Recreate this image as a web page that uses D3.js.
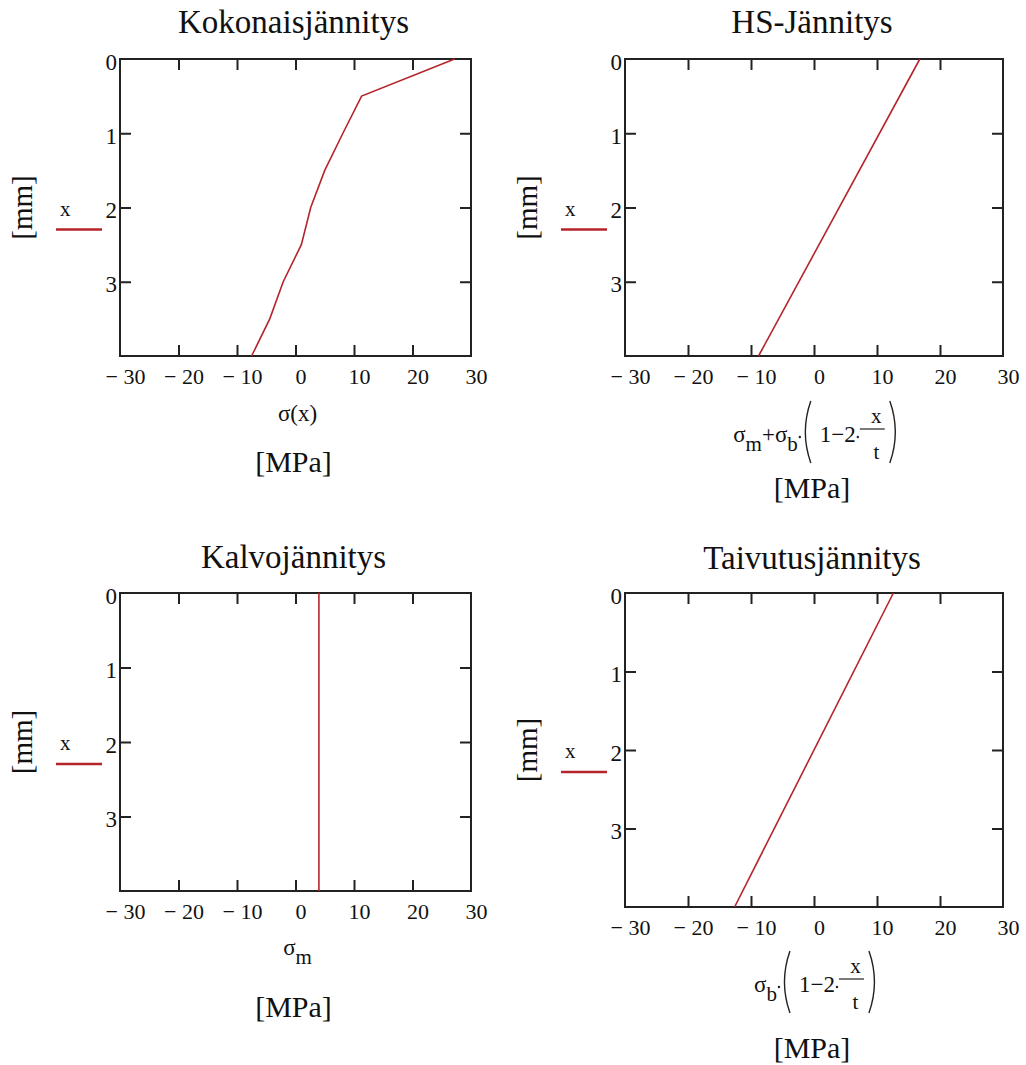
<!DOCTYPE html>
<meta charset="utf-8">
<script src="https://d3js.org/d3.v7.min.js"></script>
<style>
  body { margin: 0; background: #fff; }
  text { font-family: "Liberation Serif", "Times New Roman", serif; fill: #111; }
</style>
<div id="chart"></div>
<script>
// data (stress in MPa, depth x in mm)
const xTicks = [-30, -20, -10, 0, 10, 20, 30];
const xTickLabels = ["\u2212 30", "\u2212 20", "\u2212 10", "0", "10", "20", "30"];
const yTicks = [0, 1, 2, 3];
const yTickLabels = ["0", "1", "2", "3"];

const totalDepth = [0, 0.5, 1, 1.5, 2, 2.5, 3, 3.5, 4];
const totalStress = [27.2, 11.3, 8.1, 5.0, 2.6, 1.0, -2.1, -4.4, -7.5];

const hsDepth = [0, 4];
const hsStress = [16.8, -8.8];

const membraneDepth = [0, 4];
const membraneStress = [4.0, 4.0];

const bendingDepth = [0, 4];
const bendingStress = [12.6, -12.6];

const titles = ["Kokonaisjännitys", "HS-Jännitys", "Kalvojännitys", "Taivutusjännitys"];

const red = "#b5242b";
const serif = "'Liberation Serif', 'Times New Roman', serif";

const svg = d3.select("#chart").append("svg")
    .attr("width", 1026)
    .attr("height", 1065);

// panel frames and label baselines
const panels = [
  {left: 120, top: 59, w: 351, h: 297, title: titles[0], titleY: 33,
   depth: totalDepth, stress: totalStress, label: "sigx", labelY: 421, unitY: 472},
  {left: 625, top: 59, w: 378, h: 297, title: titles[1], titleY: 33,
   depth: hsDepth, stress: hsStress, label: "hs", labelY: 442, unitY: 498},
  {left: 120, top: 593, w: 351, h: 298, title: titles[2], titleY: 568,
   depth: membraneDepth, stress: membraneStress, label: "sigm", labelY: 955, unitY: 1017},
  {left: 625, top: 593, w: 378, h: 314, title: titles[3], titleY: 569,
   depth: bendingDepth, stress: bendingStress, label: "bend", labelY: 992, unitY: 1058}
];

// small formula typesetter: lays tokens left to right, then centres them
function formula(parent, cx, B, tokens) {
  const g = parent.append("g");
  let cur = 0;
  tokens.forEach(tk => {
    if (tk.t !== undefined) {
      const t = g.append("text").attr("x", cur).attr("y", B)
          .style("font-family", serif).style("font-size", "23px").text(tk.t);
      cur += t.node().getComputedTextLength() + (tk.gap || 0);
    } else if (tk.sub !== undefined) {
      const t = g.append("text").attr("x", cur).attr("y", B + 9)
          .style("font-family", serif).style("font-size", "21px").text(tk.sub);
      cur += t.node().getComputedTextLength() + (tk.gap || 0);
    } else if (tk.dot) {
      g.append("circle").attr("cx", cur + 2).attr("cy", B - 5).attr("r", 1.2).attr("fill", "#222");
      cur += 4;
    } else if (tk.paren) {
      const w = 10;
      const x0 = tk.paren === "(" ? cur + w - 1 : cur + 1;
      const xc = tk.paren === "(" ? cur - 2 : cur + w + 2;
      g.append("path")
          .attr("d", `M${x0},${B - 41} Q${xc},${B - 10} ${x0},${B + 21}`)
          .attr("fill", "none").attr("stroke", "#222").attr("stroke-width", 1.4);
      cur += w + (tk.gap || 0);
    } else if (tk.frac) {
      const fw = 25;
      g.append("line").attr("x1", cur).attr("x2", cur + fw)
          .attr("y1", B - 13).attr("y2", B - 13)
          .attr("stroke", "#222").attr("stroke-width", 1.2);
      g.append("text").attr("x", cur + fw / 2 + 4).attr("y", B - 19)
          .attr("text-anchor", "middle")
          .style("font-family", serif).style("font-size", "21px").text(tk.frac[0]);
      g.append("text").attr("x", cur + fw / 2 + 4).attr("y", B + 17)
          .attr("text-anchor", "middle")
          .style("font-family", serif).style("font-size", "21px").text(tk.frac[1]);
      cur += fw + 4;
    }
  });
  g.attr("transform", `translate(${cx - cur / 2},0)`);
}

panels.forEach(p => {
  const x = d3.scaleLinear().domain([-30, 30]).range([0, p.w]);
  const y = d3.scaleLinear().domain([0, 4]).range([0, p.h]);
  const cx = p.left + p.w / 2;

  const g = svg.append("g").attr("transform", `translate(${p.left},${p.top})`);

  // title
  svg.append("text")
      .attr("x", cx - 2).attr("y", p.titleY)
      .attr("text-anchor", "middle")
      .style("font-family", serif)
      .style("font-size", "33px")
      .text(p.title);

  // inner ticks on all four sides
  const inner = [-20, -10, 0, 10, 20];
  g.append("g").attr("transform", `translate(0,${p.h})`)
      .call(d3.axisBottom(x).tickValues(inner).tickSize(-11).tickFormat(""));
  g.append("g")
      .call(d3.axisTop(x).tickValues(inner).tickSize(-11).tickFormat(""));
  g.append("g")
      .call(d3.axisLeft(y).tickValues([1, 2, 3]).tickSize(-11).tickFormat(""));
  g.append("g").attr("transform", `translate(${p.w},0)`)
      .call(d3.axisRight(y).tickValues([1, 2, 3]).tickSize(-11).tickFormat(""));
  g.selectAll(".domain").remove();
  g.selectAll(".tick line").attr("stroke", "#222").attr("stroke-width", 2);

  // tick labels
  const xl = g.append("g").attr("transform", `translate(0,${p.h})`)
      .attr("font-family", null)
      .call(d3.axisBottom(x).tickValues(xTicks).tickSize(0)
          .tickFormat((d, i) => xTickLabels[i]));
  xl.select(".domain").remove();
  xl.selectAll("text")
      .attr("y", 28).attr("dy", 0).attr("dx", 5)
      .attr("fill", "#111")
      .style("font-size", "22px")
      .style("font-family", serif);

  const yl = g.append("g")
      .call(d3.axisLeft(y).tickValues(yTicks).tickSize(0)
          .tickFormat((d, i) => yTickLabels[i]));
  yl.select(".domain").remove();
  yl.selectAll("text")
      .attr("x", -3).attr("dy", 10)
      .attr("fill", "#111")
      .style("font-size", "23px")
      .style("font-family", serif);

  // frame
  g.append("rect")
      .attr("width", p.w).attr("height", p.h)
      .attr("fill", "none").attr("stroke", "#222").attr("stroke-width", 2);

  // data trace
  const pts = p.depth.map((d, i) => ({d: d, s: p.stress[i]}));
  g.append("path")
      .datum(pts)
      .attr("fill", "none")
      .attr("stroke", red)
      .attr("stroke-width", 1.6)
      .attr("d", d3.line().x(d => x(d.s)).y(d => y(d.d)));

  // y label and legend
  const mid = p.top + p.h / 2;
  svg.append("text")
      .attr("transform", `translate(${p.left - 88},${mid}) rotate(-90)`)
      .attr("text-anchor", "middle")
      .style("font-family", serif)
      .style("font-size", "29px")
      .text("[mm]");
  svg.append("text")
      .attr("x", p.left - 60).attr("y", mid + 8)
      .style("font-family", serif)
      .style("font-size", "21px")
      .text("x");
  svg.append("line")
      .attr("x1", p.left - 64).attr("x2", p.left - 18)
      .attr("y1", mid + 22).attr("y2", mid + 22)
      .attr("stroke", red).attr("stroke-width", 2.3);

  // x axis expression
  if (p.label === "sigx") {
    svg.append("text").attr("x", cx + 2).attr("y", p.labelY)
        .attr("text-anchor", "middle")
        .style("font-family", serif).style("font-size", "23px").text("σ(x)");
  } else if (p.label === "sigm") {
    formula(svg, cx + 2, p.labelY, [{t: "σ"}, {sub: "m"}]);
  } else if (p.label === "hs") {
    formula(svg, cx + 2, p.labelY, [
      {t: "σ"}, {sub: "m"}, {t: "+"}, {t: "σ"}, {sub: "b"}, {dot: true},
      {paren: "(", gap: 8}, {t: "1\u22122"}, {dot: true}, {frac: ["x", "t"]},
      {paren: ")"}
    ]);
  } else {
    formula(svg, cx + 2, p.labelY, [
      {t: "σ"}, {sub: "b"}, {dot: true},
      {paren: "(", gap: 8}, {t: "1\u22122"}, {dot: true}, {frac: ["x", "t"]},
      {paren: ")"}
    ]);
  }

  // unit
  svg.append("text")
      .attr("x", cx - 2).attr("y", p.unitY)
      .attr("text-anchor", "middle")
      .style("font-family", serif)
      .style("font-size", "30px")
      .text("[MPa]");
});
</script>
</html>
